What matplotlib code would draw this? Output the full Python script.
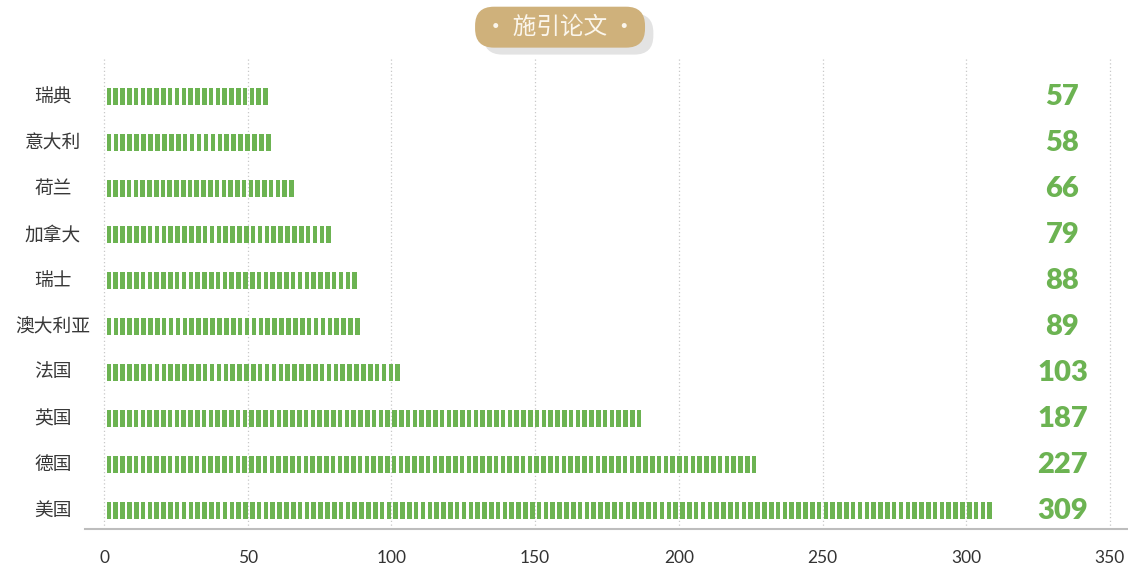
import numpy as np
import matplotlib.pyplot as plt
import matplotlib.patheffects as pe

plt.rcParams['font.family'] = ['Noto Sans CJK SC', 'DejaVu Sans']

countries = ['美国', '德国', '英国', '法国', '澳大利亚', '瑞士', '加拿大', '荷兰', '意大利', '瑞典']
papers = [309, 227, 187, 103, 89, 88, 79, 66, 58, 57]
title = '· 施引论文 ·'

green = '#6cb352'
period = 2.37   # stripe repeat, data units
stripe = 1.6    # stripe width
start = 0.9

fig = plt.figure(figsize=(11.28, 5.66), dpi=100)
ax = fig.add_axes([0.0754, 0.0654, 0.9246, 0.8321])

y = np.arange(len(countries))
for yi, v in zip(y, papers):
    # stripes spread so the last one ends exactly at the value
    n = int(round((v - start - stripe) / period)) + 1
    lefts = np.linspace(start, v - stripe, n)
    ax.barh(np.full(n, yi), stripe, left=lefts, height=0.37,
            color=green, linewidth=0, zorder=3)
    ax.text(333.5, yi, str(v), ha='center', va='center', fontsize=21,
            fontweight='heavy', color=green, family=['Lato', 'DejaVu Sans'])

ax.set_xlim(-6.6, 356.3)
ax.set_ylim(-0.395, 9.845)
ax.set_xticks(np.arange(0, 351, 50))
ax.set_yticks([])
for yi, c in zip(y, countries):
    ax.text(-17.8, yi, c, ha='center', va='center', fontsize=13.5, color='#383838')

ax.grid(axis='x', linestyle=(0, (1, 2)), color='#c8c8c8', linewidth=0.9, zorder=0)
for s in ['top', 'right', 'left']:
    ax.spines[s].set_visible(False)
ax.spines['bottom'].set_color('#bdbdbd')
ax.spines['bottom'].set_linewidth(1.5)
ax.tick_params(axis='x', length=0, pad=15, labelsize=12.5, labelcolor='#333333')
for lab in ax.get_xticklabels():
    lab.set_family(['Lato', 'DejaVu Sans'])

# title badge with shadow
t = fig.text(0.4965, 0.952, title, ha='center', va='center', fontsize=17, color='#fbf6ec',
             bbox=dict(boxstyle='round,pad=0.38,rounding_size=0.8', fc='#cfb17b', ec='none'))
t.get_bbox_patch().set_path_effects([
    pe.SimplePatchShadow(offset=(6, -5), shadow_rgbFace='#e3e3e3', alpha=1), pe.Normal()])

plt.savefig('out.png', dpi=100)
